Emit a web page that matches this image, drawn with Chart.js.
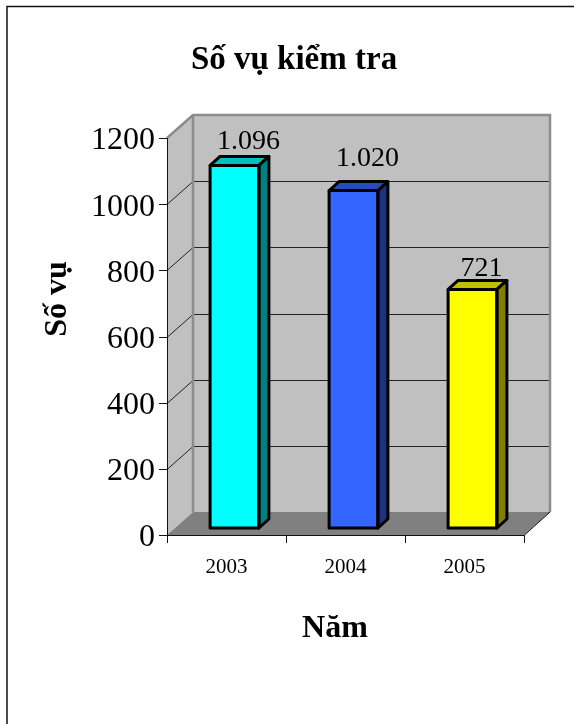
<!DOCTYPE html>
<html>
<head>
<meta charset="utf-8">
<style>
  html, body { margin: 0; padding: 0; background: #fff; }
  #wrap { position: relative; width: 574px; height: 724px; }
</style>
<script src="https://cdn.jsdelivr.net/npm/chart.js@4"></script>
</head>
<body>
<div id="wrap"><canvas id="chart" width="574" height="724"></canvas></div>
<script>
const years = ["2003", "2004", "2005"];
const cases = [1096, 1020, 721];
const valueLabels = ["1.096", "1.020", "721"];
const yTicks = [0, 200, 400, 600, 800, 1000, 1200];
const frontColors = ["#00ffff", "#3366ff", "#ffff00"];
const topColors = ["#00bfbf", "#264cbf", "#bfbf00"];
const sideColors = ["#008080", "#1a3380", "#808000"];

const chartTitle = "Số vụ kiểm tra";
const xTitle = "Năm";
const yTitle = "Số vụ";

const SERIF = '"Liberation Serif", "Times New Roman", serif';

// depth of the back wall and of the bars, px
const WALL_DX = 26, WALL_DY = 23;
const BAR_DX = 10, BAR_DY = 9;
// bars stand in the middle of the floor
const SHIFT_X = 8, SHIFT_Y = 7;

function poly(ctx, pts, fill, stroke, lw) {
  ctx.beginPath();
  pts.forEach((p, i) => i ? ctx.lineTo(p[0], p[1]) : ctx.moveTo(p[0], p[1]));
  ctx.closePath();
  if (fill) { ctx.fillStyle = fill; ctx.fill(); }
  if (stroke) { ctx.strokeStyle = stroke; ctx.lineWidth = lw; ctx.stroke(); }
}

const fakeBox = {
  id: "fakeBox",
  beforeDatasetsDraw(chart) {
    const { ctx, chartArea: a, scales: { y } } = chart;
    const l = a.left, r = a.right, t = a.top, b = a.bottom;
    const dx = WALL_DX, dy = WALL_DY;
    ctx.save();
    // back wall, side wall, floor
    poly(ctx, [[l + dx, t - dy], [r + dx, t - dy], [r + dx, b - dy], [l + dx, b - dy]], "#c0c0c0");
    poly(ctx, [[l, t], [l + dx, t - dy], [l + dx, b - dy], [l, b]], "#c0c0c0");
    poly(ctx, [[l, b], [l + dx, b - dy], [r + dx, b - dy], [r, b]], "#808080");
    // gridlines run along the side wall and the back wall
    ctx.strokeStyle = "#222";
    ctx.lineWidth = 1;
    yTicks.slice(1, -1).forEach(v => {
      const py = Math.round(y.getPixelForValue(v)) + 0.5;
      ctx.beginPath();
      ctx.moveTo(l, py);
      ctx.lineTo(l + dx, py - dy);
      ctx.lineTo(r + dx, py - dy);
      ctx.stroke();
    });
    // grey wall edges
    ctx.strokeStyle = "#8c8c8c";
    ctx.lineWidth = 2.5;
    ctx.beginPath();
    ctx.moveTo(l, t);
    ctx.lineTo(l + dx, t - dy);
    ctx.lineTo(r + dx, t - dy);
    ctx.lineTo(r + dx, b - dy);
    ctx.moveTo(l + dx, t - dy);
    ctx.lineTo(l + dx, b - dy);
    ctx.stroke();
    // front edges of the floor
    ctx.strokeStyle = "#111";
    ctx.lineWidth = 1;
    ctx.beginPath();
    ctx.moveTo(l + 0.5, t);
    ctx.lineTo(l + 0.5, b);
    ctx.moveTo(l, b + 0.5);
    ctx.lineTo(r, b + 0.5);
    ctx.lineTo(r + dx, b - dy);
    ctx.stroke();
    ctx.restore();
    // shift bars up and right onto the floor
    ctx.save();
    ctx.translate(SHIFT_X, -SHIFT_Y);
  },
  afterDatasetsDraw(chart) {
    const { ctx } = chart;
    ctx.restore();
    ctx.save();
    ctx.translate(SHIFT_X, -SHIFT_Y);
    chart.getDatasetMeta(0).data.forEach((bar, i) => {
      const x1 = bar.x - bar.width / 2, x2 = bar.x + bar.width / 2;
      const yt = bar.y, yb = bar.base;
      ctx.lineJoin = "round";
      poly(ctx, [[x1, yt], [x1 + BAR_DX, yt - BAR_DY], [x2 + BAR_DX, yt - BAR_DY], [x2, yt]], topColors[i], "#000", 3);
      poly(ctx, [[x2, yt], [x2 + BAR_DX, yt - BAR_DY], [x2 + BAR_DX, yb - BAR_DY], [x2, yb]], sideColors[i], "#000", 3);
      poly(ctx, [[x1, yt], [x2, yt], [x2, yb], [x1, yb]], null, "#000", 3);
    });
    ctx.restore();
    // value labels
    ctx.save();
    ctx.font = "28px " + SERIF;
    ctx.fillStyle = "#000";
    ctx.textAlign = "center";
    ctx.textBaseline = "alphabetic";
    chart.getDatasetMeta(0).data.forEach((bar, i) => {
      const off = [16, 25, 13][i];
      ctx.fillText(valueLabels[i], bar.x + SHIFT_X + [14, 14, 9][i], bar.y - SHIFT_Y - off);
    });
    ctx.restore();
  },
  afterDraw(chart) {
    const { ctx } = chart;
    ctx.save();
    ctx.fillStyle = "#000";
    ctx.textAlign = "center";
    ctx.textBaseline = "middle";
    ctx.font = "bold 33px " + SERIF;
    ctx.fillText(chartTitle, 294, 60);
    ctx.font = "bold 32px " + SERIF;
    ctx.fillText(xTitle, 335, 629);
    ctx.translate(58, 299);
    ctx.rotate(-Math.PI / 2);
    ctx.fillText(yTitle, 0, 0);
    ctx.restore();
    // page frame: only top and left edges show
    ctx.save();
    ctx.strokeStyle = "#111";
    ctx.lineWidth = 1.5;
    ctx.beginPath();
    ctx.moveTo(7, 724);
    ctx.lineTo(7, 6.5);
    ctx.lineTo(574, 6.5);
    ctx.stroke();
    ctx.restore();
  }
};

new Chart(document.getElementById("chart"), {
  type: "bar",
  data: {
    labels: years,
    datasets: [{
      label: yTitle,
      data: cases,
      backgroundColor: frontColors,
      borderWidth: 0,
      barPercentage: 0.41,
      categoryPercentage: 1
    }]
  },
  options: {
    responsive: false,
    animation: false,
    devicePixelRatio: 1,
    layout: { padding: { left: 0, top: 138, right: 50, bottom: 0 } },
    plugins: {
      legend: { display: false },
      tooltip: { enabled: false }
    },
    scales: {
      x: {
        grid: { display: false },
        border: { display: false },
        ticks: { color: "#000", font: { family: SERIF, size: 21 }, padding: 12, maxRotation: 0 },
        afterFit(s) { s.height = 724 - 535; }
      },
      y: {
        min: 0,
        max: 1200,
        grid: { display: false },
        border: { display: false },
        ticks: {
          color: "#000",
          font: { family: SERIF, size: 32 },
          padding: 4,
          stepSize: 200,
          labelOffset: 3,
          callback: v => String(v)
        },
        afterFit(s) { s.width = 167; }
      }
    }
  },
  plugins: [fakeBox, {
    id: "axisTicks",
    afterDraw(chart) {
      // tick marks on the front edges
      const { ctx, chartArea: a, scales: { x, y } } = chart;
      ctx.save();
      ctx.strokeStyle = "#111";
      ctx.lineWidth = 1;
      ctx.beginPath();
      yTicks.forEach(v => {
        const py = Math.round(y.getPixelForValue(v)) + 0.5;
        ctx.moveTo(a.left - 8, py);
        ctx.lineTo(a.left, py);
      });
      years.forEach((_, i) => {
        const px = Math.round(x.getPixelForValue(i) - (x.width / years.length) / 2) + 0.5;
        ctx.moveTo(px, a.bottom);
        ctx.lineTo(px, a.bottom + 8);
      });
      ctx.moveTo(a.right + 0.5, a.bottom);
      ctx.lineTo(a.right + 0.5, a.bottom + 8);
      ctx.stroke();
      ctx.restore();
    }
  }]
});
</script>
</body>
</html>
